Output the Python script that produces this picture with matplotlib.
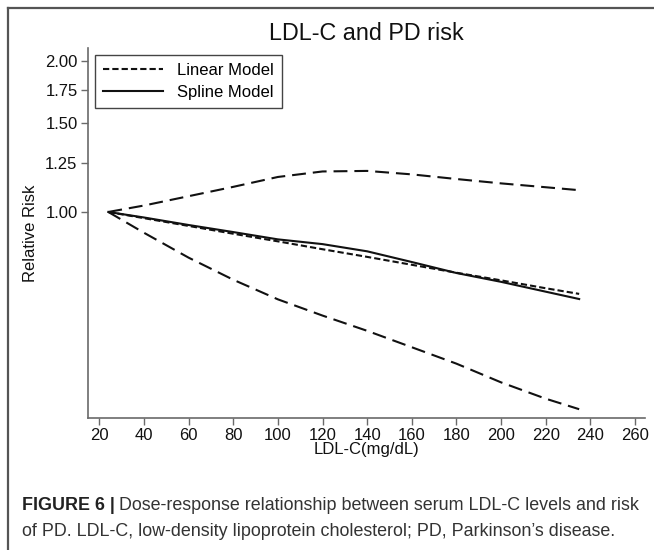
import matplotlib
matplotlib.use("Agg")
import matplotlib.pyplot as plt
from matplotlib.lines import Line2D

plt.rcParams['font.family'] = ['Liberation Sans', 'DejaVu Sans']
plt.rcParams['lines.scale_dashes'] = False

# ---- data ----
ldl = [24, 40, 60, 80, 100, 120, 140, 160, 180, 200, 220, 235]
rr_linear = [1.000, 0.972, 0.938, 0.905, 0.874, 0.843, 0.814, 0.785, 0.757, 0.731, 0.705, 0.687]
rr_spline = [1.000, 0.975, 0.942, 0.912, 0.882, 0.863, 0.835, 0.795, 0.756, 0.726, 0.694, 0.671]
ci_upper = [1.000, 1.030, 1.075, 1.122, 1.174, 1.204, 1.207, 1.188, 1.163, 1.140, 1.120, 1.105]
ci_lower = [1.000, 0.909, 0.811, 0.733, 0.670, 0.622, 0.580, 0.538, 0.499, 0.458, 0.425, 0.405]

x_ticks = [20, 40, 60, 80, 100, 120, 140, 160, 180, 200, 220, 240, 260]
y_ticks = [1.00, 1.25, 1.50, 1.75, 2.00]
y_ticklabels = ["1.00", "1.25", "1.50", "1.75", "2.00"]

title = "LDL-C and PD risk"
xlabel = "LDL-C(mg/dL)"
ylabel = "Relative Risk"
legend_labels = ["Linear Model", "Spline Model"]
caption_bold = "FIGURE 6 |"
caption_line1 = "Dose-response relationship between serum LDL-C levels and risk"
caption_line2 = "of PD. LDL-C, low-density lipoprotein cholesterol; PD, Parkinson\u2019s disease."

W, H = 654, 550
fig = plt.figure(figsize=(W / 100, H / 100), dpi=100)
ax = fig.add_axes([88 / W, 1 - 418 / H, 557 / W, 370 / H])

lw = 1.5
ax.plot(ldl, ci_upper, color='#111111', lw=lw, dashes=(10, 5))
ax.plot(ldl, ci_lower, color='#111111', lw=lw, dashes=(10, 5))
ax.plot(ldl, rr_linear, color='#111111', lw=lw, dashes=(4.5, 2.2))
ax.plot(ldl, rr_spline, color='#111111', lw=lw)

ax.set_yscale('log')
ax.set_ylim(0.389, 2.12)
ax.set_xlim(14.9, 264.5)
ax.set_yticks(y_ticks)
ax.set_yticklabels(y_ticklabels)
ax.yaxis.set_minor_locator(matplotlib.ticker.NullLocator())
ax.set_xticks(x_ticks)

for s in ['top', 'right']:
    ax.spines[s].set_visible(False)
for s in ['left', 'bottom']:
    ax.spines[s].set_color('#6a6a6a')
    ax.spines[s].set_linewidth(1.2)
ax.tick_params(axis='both', direction='out', length=5, width=1.0, color='#6a6a6a',
               labelsize=12, labelcolor='#111111', pad=2.5)

ax.set_xlabel(xlabel, fontsize=12, labelpad=-1, color='#111111')
ax.set_ylabel(ylabel, fontsize=12, labelpad=5, color='#111111')
fig.text(0.5 * (88 + 645) / W, 1 - 33 / H, title, fontsize=16.8, ha='center', va='center',
         color='#111111')

handles = [Line2D([], [], color='#111111', lw=lw, dashes=(4.5, 2.2)),
           Line2D([], [], color='#111111', lw=lw)]
leg = fig.legend(handles, legend_labels, loc='upper left',
                 bbox_to_anchor=(95 / W, 1 - 55 / H), bbox_transform=fig.transFigure,
                 borderaxespad=0, fontsize=12, handlelength=3.6, handletextpad=0.8,
                 labelspacing=0.4, borderpad=0.5, fancybox=False, framealpha=1,
                 edgecolor='#444444')
leg.get_frame().set_linewidth(1.0)

# outer frame of the figure panel
fig.add_artist(Line2D([7.5 / W, 1.0], [1 - 8 / H, 1 - 8 / H], transform=fig.transFigure,
                      color='#555555', lw=1.6))
fig.add_artist(Line2D([7.5 / W, 7.5 / W], [0, 1 - 8 / H], transform=fig.transFigure,
                      color='#555555', lw=1.6))

# caption
cap_font = ['Liberation Sans', 'DejaVu Sans']
cap_size = 12.9
t_bold = fig.text(22 / W, 1 - 506 / H, caption_bold, fontsize=cap_size, fontweight='bold',
                  family=cap_font, va='center', ha='left', color='#222222')
fig.canvas.draw()
bb = t_bold.get_window_extent(renderer=fig.canvas.get_renderer())
fig.text(bb.x1 / W + 4 / W, 1 - 506 / H, caption_line1, fontsize=cap_size, family=cap_font,
         va='center', ha='left', color='#333333')
fig.text(22 / W, 1 - 531 / H, caption_line2, fontsize=cap_size, family=cap_font,
         va='center', ha='left', color='#333333')

fig.savefig('out.png', dpi=100)
